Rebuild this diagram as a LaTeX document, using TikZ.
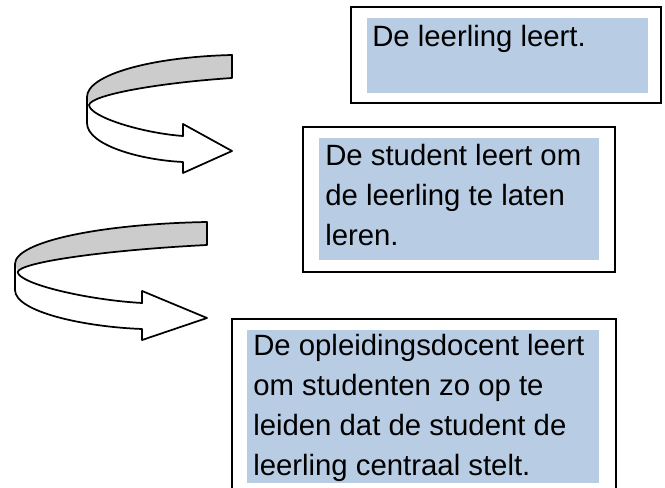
\documentclass[tikz,border=0pt]{standalone}
\usepackage{fontspec}
\setmainfont{Liberation Sans}
\usetikzlibrary{fit}
\definecolor{boxblue}{HTML}{B8CCE4}
\definecolor{bandgray}{HTML}{CCCCCC}
\tikzset{
  frame/.style={draw=black, line width=1.3pt, inner sep=0pt, fill=white},
  shade/.style={fill=boxblue, draw=none, inner sep=0pt},
  txt/.style={anchor=base west, inner sep=0pt, font=\fontsize{22}{30}\selectfont},
  outline/.style={draw=black, line width=1.3pt, line join=round},
  curlarrow/.pic={
    \fill[bandgray] (145,0) .. controls (63,2) and (0,20) .. (0,42) -- (2,50)
      .. controls (4,40) and (70,28) .. (145,23) -- cycle;
    \fill[white] (0,42) -- (0,68) .. controls (0,90) and (53,105) .. (96,107)
      -- (96,118) -- (145,96) -- (96,69) -- (96,81)
      .. controls (55,78) and (3,62) .. (2,50) -- cycle;
    \draw[outline] (145,0) .. controls (63,2) and (0,20) .. (0,42) -- (0,68)
      .. controls (0,90) and (53,105) .. (96,107) -- (96,118) -- (145,96)
      -- (96,69) -- (96,81) .. controls (55,78) and (3,62) .. (2,50)
      .. controls (4,40) and (70,28) .. (145,23) -- cycle;
  }
}
\begin{document}
\begin{tikzpicture}[x=0.75pt,y=-0.75pt]
\useasboundingbox (0,0) rectangle (665,488);
\clip (0,0) rectangle (665,488);
% arrows
\pic (a1) at (87,55) {curlarrow};
\pic[xscale=1.324] (a2) at (15,222) {curlarrow};
% box 1
\node[frame, fit={(351,7) (661,103)}] (b1) {};
\node[shade, fit={(367,18) (648,93)}] (f1) {};
\node[txt] (t1) at (372,47) {\vtop{\hbox{De leerling leert.}}};
% box 2
\node[frame, fit={(303,127) (615,272)}] (b2) {};
\node[shade, fit={(319,138) (599,260)}] (f2) {};
\node[txt] (t2) at (325,166) {\vtop{\hbox{De student leert om}\hbox{de leerling te laten}\hbox{leren.}}};
% box 3
\node[frame, fit={(232,319) (616,505)}] (b3) {};
\node[shade, fit={(247,330) (599,483)}] (f3) {};
\node[txt] (t3) at (253,356) {\vtop{\hbox{De opleidingsdocent leert}\hbox{om studenten zo op te}\hbox{leiden dat de student de}\hbox{leerling centraal stelt.}}};
\end{tikzpicture}
\end{document}
